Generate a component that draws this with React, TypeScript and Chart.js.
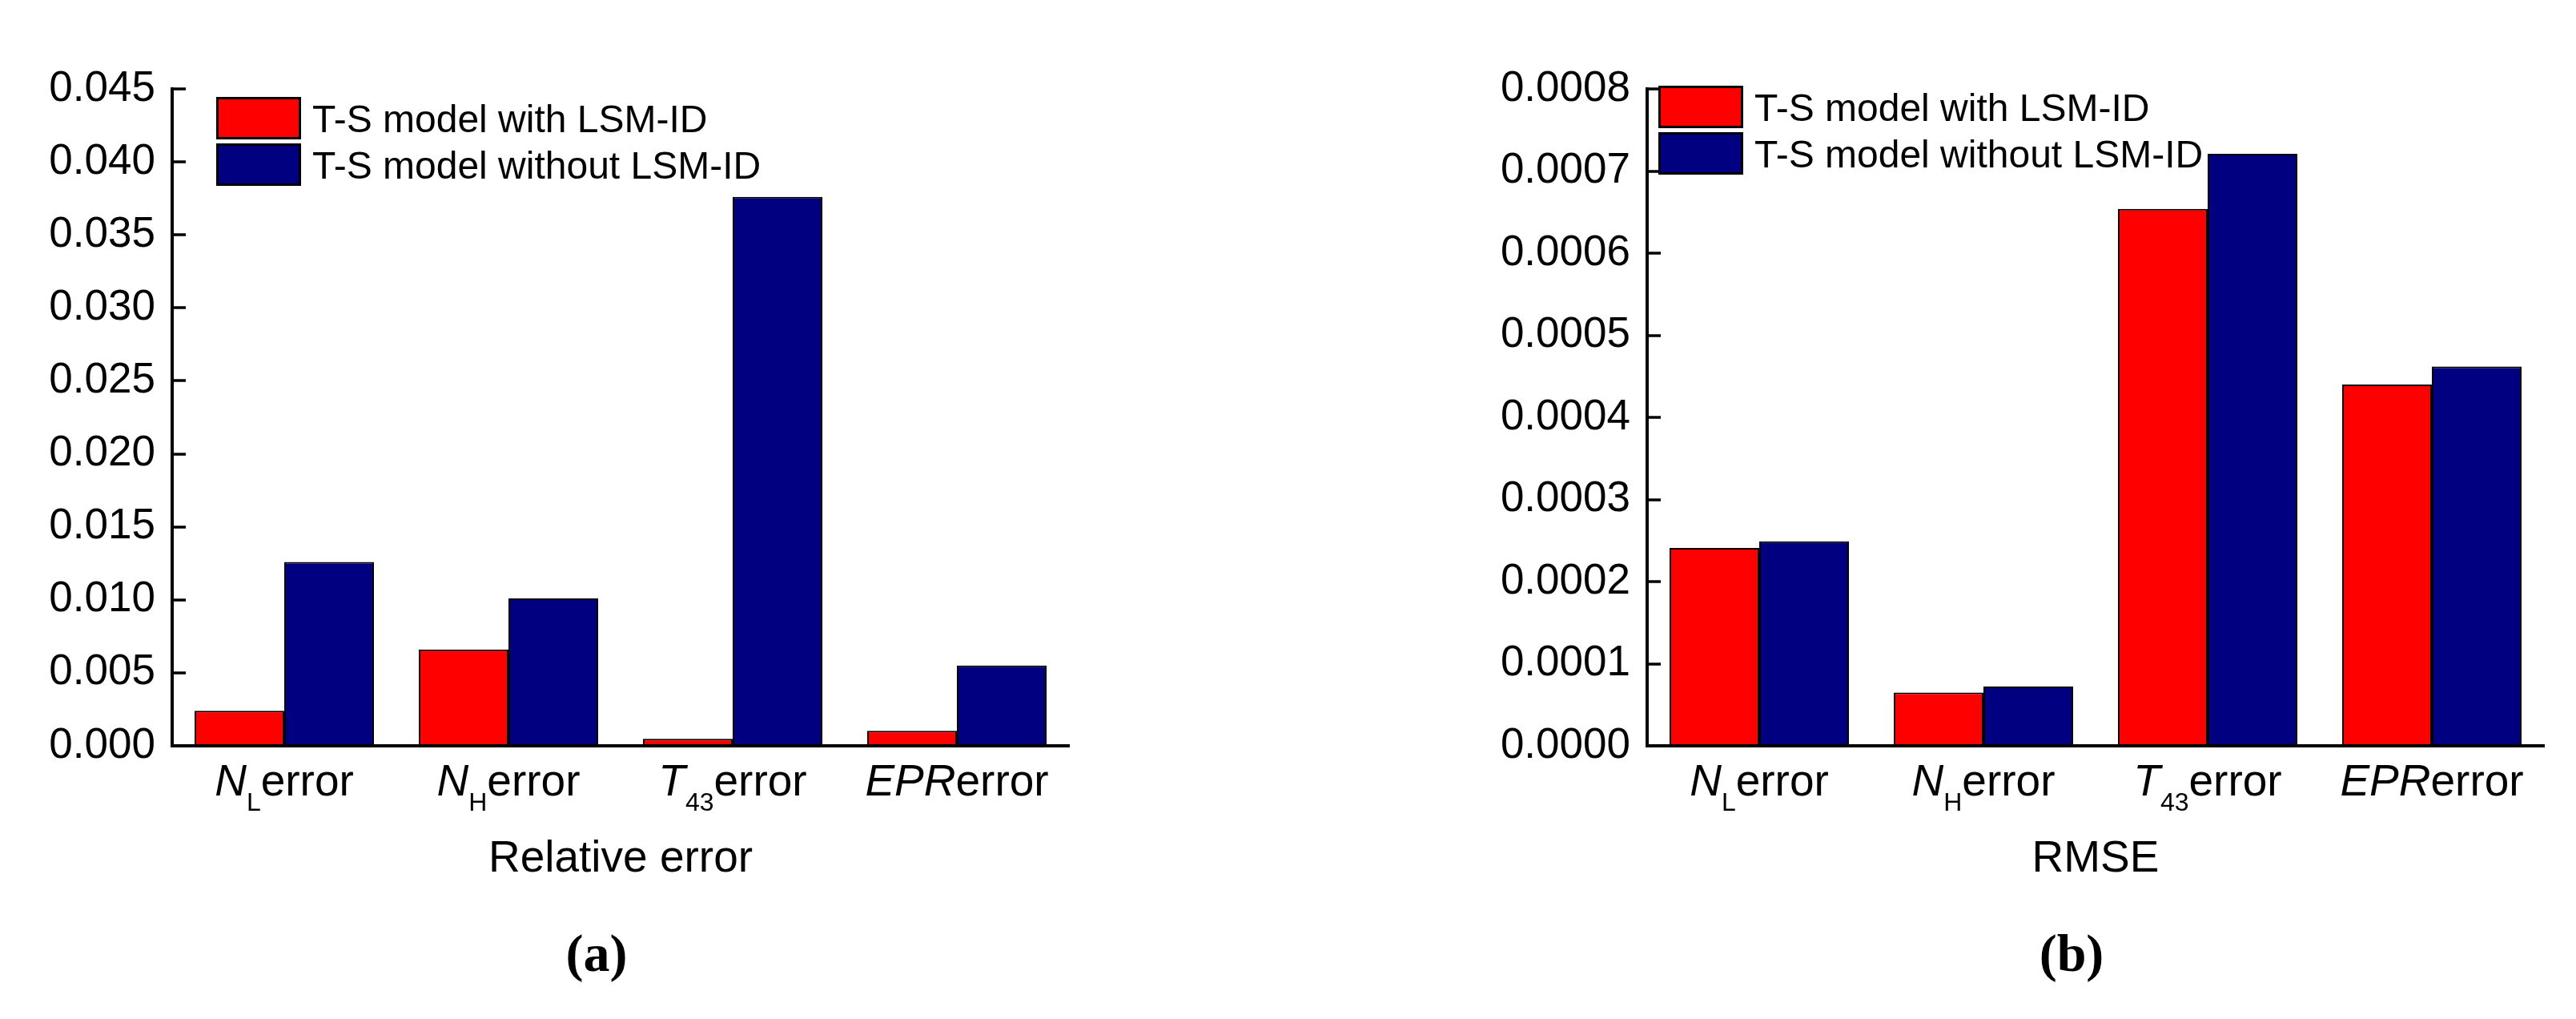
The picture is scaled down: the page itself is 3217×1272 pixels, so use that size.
import React, { useEffect, useRef } from 'react';
import { Chart, registerables } from 'chart.js';

Chart.register(...registerables);

const FONT = '"Liberation Sans", Arial, Helvetica, sans-serif';
const SERIF = '"Liberation Serif", "Times New Roman", serif';

// ---- data ----
const categories = ['NL error', 'NH error', 'T43 error', 'EPR error'];
// rich label parts: [text, kind] where kind: 'i' italic, 'n' normal, 'sub' subscript
const categoryParts: [string, string][][] = [
  [['N', 'i'], ['L', 'sub'], ['error', 'n']],
  [['N', 'i'], ['H', 'sub'], ['error', 'n']],
  [['T', 'i'], ['43', 'sub'], ['error', 'n']],
  [['EPR', 'i'], ['error', 'n']],
];
const seriesNames = ['T-S model with LSM-ID', 'T-S model without LSM-ID'];
const seriesColors = ['#FF0000', '#000080'];

const relativeWith = [0.0024, 0.0066, 0.00048, 0.00103];
const relativeWithout = [0.0126, 0.0101, 0.0376, 0.0055];
const rmseWith = [0.000241, 0.000065, 0.000654, 0.00044];
const rmseWithout = [0.000249, 0.0000721, 0.000721, 0.000462];

const relativeAxis = { max: 0.045, step: 0.005, digits: 3 };
const rmseAxis = { max: 0.0008, step: 0.0001, digits: 4 };

const panelTitles = ['Relative error', 'RMSE'];
const panelCaptions = ['(a)', '(b)'];

// ---- plugin drawing rich labels, inward ticks, legend, captions ----
const decorPlugin = {
  id: 'decor',
  afterDraw(chart: any, _args: any, opts: any) {
    const { ctx, chartArea: a, scales } = chart;
    const xs = scales.x;
    const ys = scales.y;
    ctx.save();
    // inward tick marks on y axis
    ctx.strokeStyle = '#000';
    ctx.lineWidth = 3.5;
    ys.ticks.forEach((t: any) => {
      const py = Math.round(ys.getPixelForValue(t.value));
      ctx.beginPath();
      ctx.moveTo(a.left, py);
      ctx.lineTo(a.left + 17, py);
      ctx.stroke();
    });
    // category labels
    ctx.fillStyle = '#000';
    ctx.textBaseline = 'alphabetic';
    ctx.textAlign = 'left';
    const fontFor = (k: string) =>
      k === 'i' ? `italic 55px ${FONT}` : k === 'sub' ? `32px ${FONT}` : `55px ${FONT}`;
    categoryParts.forEach((parts, i) => {
      let w = 0;
      parts.forEach(([t, k]) => {
        ctx.font = fontFor(k);
        w += ctx.measureText(t).width;
      });
      let x = xs.getPixelForValue(i) - w / 2;
      const base = a.bottom + 62;
      parts.forEach(([t, k]) => {
        ctx.font = fontFor(k);
        ctx.fillText(t, x, k === 'sub' ? base + 19 : base);
        x += ctx.measureText(t).width;
      });
    });
    // axis title
    ctx.font = `55px ${FONT}`;
    ctx.textAlign = 'center';
    ctx.fillText(opts.title, (a.left + a.right) / 2, a.bottom + 157);
    // caption
    ctx.font = `bold 66px ${SERIF}`;
    ctx.fillText(opts.caption, (a.left + a.right) / 2 - 30, a.bottom + 281);
    // legend
    chart.data.datasets.forEach((ds: any, i: number) => {
      const bx = a.left + opts.legendDx;
      const by = a.top + opts.legendDy + i * 58;
      ctx.fillStyle = ds.backgroundColor;
      ctx.fillRect(bx, by, 106, 53);
      ctx.lineWidth = 3;
      ctx.strokeStyle = '#000';
      ctx.strokeRect(bx + 1.5, by + 1.5, 103, 50);
      ctx.fillStyle = '#000';
      ctx.font = `48px ${FONT}`;
      ctx.textAlign = 'left';
      ctx.fillText(ds.label, bx + 120, by + 26.5 + 17);
    });
    ctx.restore();
  },
};

function makeConfig(
  withVals: number[],
  withoutVals: number[],
  axis: { max: number; step: number; digits: number },
  yWidth: number,
  padRight: number,
  title: string,
  caption: string,
  legendDx: number,
  legendDy: number
): any {
  return {
    type: 'bar',
    data: {
      labels: categories,
      datasets: [withVals, withoutVals].map((vals, i) => ({
        label: seriesNames[i],
        data: vals,
        backgroundColor: seriesColors[i],
        borderColor: '#000',
        borderWidth: 2,
        borderSkipped: false,
        categoryPercentage: 0.8,
        barPercentage: 1.0,
      })),
    },
    options: {
      responsive: false,
      animation: false,
      devicePixelRatio: 1,
      layout: { padding: { left: 0, top: 111, right: padRight, bottom: 0 } },
      plugins: {
        legend: { display: false },
        tooltip: { enabled: false },
        decor: { title, caption, legendDx, legendDy },
      },
      scales: {
        x: {
          offset: true,
          grid: { display: false, drawTicks: false },
          border: { display: true, color: '#000', width: 4 },
          ticks: { display: false },
          afterFit: (s: any) => {
            s.height = 341;
          },
        },
        y: {
          min: 0,
          max: axis.max,
          grid: { display: false, drawTicks: false },
          border: { display: true, color: '#000', width: 4 },
          ticks: {
            stepSize: axis.step,
            padding: 21,
            color: '#000',
            font: { family: FONT, size: 53 },
            callback: (v: any) => Number(v).toFixed(axis.digits),
          },
          afterFit: (s: any) => {
            s.width = yWidth;
          },
        },
      },
    },
    plugins: [decorPlugin],
  };
}

export default function App() {
  const leftRef = useRef<HTMLCanvasElement>(null);
  const rightRef = useRef<HTMLCanvasElement>(null);

  useEffect(() => {
    const c1 = new Chart(
      leftRef.current as HTMLCanvasElement,
      makeConfig(relativeWith, relativeWithout, relativeAxis, 215, 265, panelTitles[0], panelCaptions[0], 55, 10)
    );
    const c2 = new Chart(
      rightRef.current as HTMLCanvasElement,
      makeConfig(rmseWith, rmseWithout, rmseAxis, 457, 40, panelTitles[1], panelCaptions[1], 14, -4)
    );
    return () => {
      c1.destroy();
      c2.destroy();
    };
  }, []);

  return (
    <div
      style={{
        position: 'absolute',
        left: 0,
        top: 0,
        width: 3217,
        height: 1272,
        background: '#fff',
        overflow: 'hidden',
      }}
    >
      <canvas
        ref={leftRef}
        width={1600}
        height={1272}
        style={{ position: 'absolute', left: 0, top: 0, width: 1600, height: 1272 }}
      />
      <canvas
        ref={rightRef}
        width={1617}
        height={1272}
        style={{ position: 'absolute', left: 1600, top: 0, width: 1617, height: 1272 }}
      />
    </div>
  );
}
